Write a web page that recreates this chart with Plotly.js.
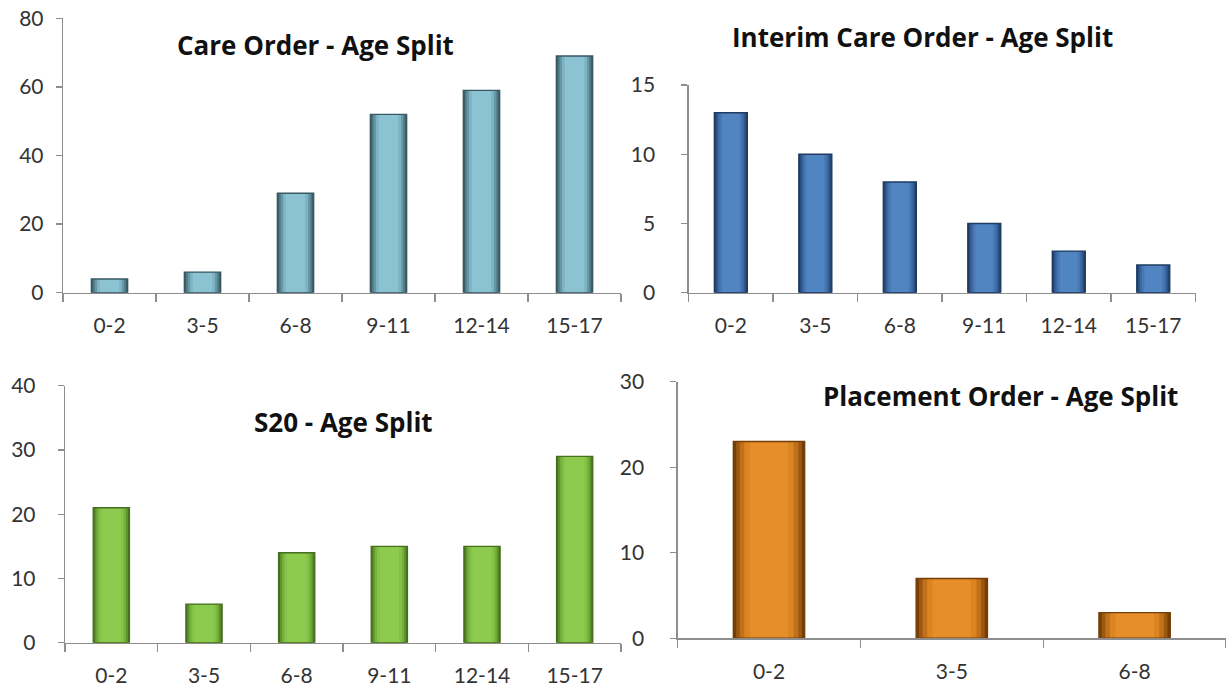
<!DOCTYPE html>
<html>
<head>
<meta charset="utf-8">
<script src="https://cdn.plot.ly/plotly-3.0.1.min.js"></script>
<style>html,body{margin:0;padding:0;background:#fff;}#chart{width:1226px;height:690px;}</style>
</head>
<body>
<div id="chart"></div>
<script>
// ---- data ----
var ages6 = ['0-2', '3-5', '6-8', '9-11', '12-14', '15-17'];
var ages3 = ['0-2', '3-5', '6-8'];
var careOrder = [4, 6, 29, 52, 59, 69];
var interimCareOrder = [13, 10, 8, 5, 3, 2];
var s20 = [21, 6, 14, 15, 15, 29];
var placementOrder = [23, 7, 3];
var titles = ['Care Order - Age Split', 'Interim Care Order - Age Split', 'S20 - Age Split', 'Placement Order - Age Split'];

// ---- style ----
var FONT = 'Lato, "Open Sans", "DejaVu Sans", sans-serif';
var TFONT = '"Open Sans", Lato, "DejaVu Sans", sans-serif';
var palettes = [
  ['#395a64', '#4f7784', '#6796a5', '#7eb3c3', '#8cc3d3'],
  ['#1f3b62', '#2c5184', '#3b67a0', '#4878b4', '#5085c2'],
  ['#466f1f', '#5e922d', '#74ae3b', '#84c146', '#8dcb4e'],
  ['#743f07', '#9c5710', '#c2701a', '#db8423', '#e68f2a']
];
var layerW = [0.39, 0.36, 0.32, 0.27, 0.21];

var panels = [
  {x: ages6, y: careOrder, xa: 'x', ya: 'y'},
  {x: ages6, y: interimCareOrder, xa: 'x2', ya: 'y2'},
  {x: ages6, y: s20, xa: 'x3', ya: 'y3'},
  {x: ages3, y: placementOrder, xa: 'x4', ya: 'y4'}
];

var traces = [];
panels.forEach(function (p, i) {
  var pal = palettes[i];
  layerW.forEach(function (w, k) {
    traces.push({
      type: 'bar', x: p.x, y: p.y, xaxis: p.xa, yaxis: p.ya,
      width: w, marker: {color: pal[k], line: {width: 0}},
      hoverinfo: k === 0 ? 'x+y' : 'skip', showlegend: false
    });
  });
  traces.push({
    type: 'bar', x: p.x, y: p.y, xaxis: p.xa, yaxis: p.ya,
    width: layerW[0], marker: {color: 'rgba(0,0,0,0)', line: {width: 1.4, color: pal[0]}},
    hoverinfo: 'skip', showlegend: false
  });
});

var W = 1226, H = 690;
function px(a) { return a / W; }
function py(b) { return 1 - b / H; }

function xAxis(domain, anchor, n) {
  return {
    domain: domain, anchor: anchor, type: 'category', range: [-0.5, n - 0.5],
    showgrid: false, zeroline: false, showline: true, linecolor: '#8e8e8e', linewidth: 1.3,
    ticks: 'outside', tickson: 'boundaries', ticklen: 8, tickcolor: '#8e8e8e', tickwidth: 1.3,
    ticklabelstandoff: 14,
    tickfont: {family: FONT, size: 21, color: '#333333'}, fixedrange: true
  };
}
function yAxis(domain, anchor, max, dtick, standoff) {
  return {
    domain: domain, anchor: anchor, range: [0, max], dtick: dtick, tick0: 0,
    showgrid: false, zeroline: false, showline: true, linecolor: '#8e8e8e', linewidth: 1.3,
    ticks: 'outside', ticklen: 6, tickcolor: '#8e8e8e', tickwidth: 1.3,
    ticklabelstandoff: standoff,
    tickfont: {family: FONT, size: 21, color: '#333333'}, fixedrange: true
  };
}

var layout = {
  width: W, height: H, margin: {l: 0, r: 0, t: 0, b: 0},
  paper_bgcolor: '#ffffff', plot_bgcolor: 'rgba(0,0,0,0)',
  barmode: 'overlay', showlegend: false,
  xaxis: xAxis([px(63), px(621)], 'y', ages6.length),
  yaxis: yAxis([py(292.7), py(18.3)], 'x', 80, 20, 8),
  xaxis2: xAxis([px(688.6), px(1195.5)], 'y2', ages6.length),
  yaxis2: yAxis([py(292.7), py(85)], 'x2', 15, 5, 22),
  xaxis3: xAxis([px(65), px(621)], 'y3', ages6.length),
  yaxis3: yAxis([py(642.7), py(385.7)], 'x3', 40, 10, 18),
  xaxis4: xAxis([px(677.6), px(1226)], 'y4', ages3.length),
  yaxis4: yAxis([py(638.3), py(381.7)], 'x4', 30, 10, 22),
  annotations: [
    {text: titles[0], x: px(315), y: py(45)},
    {text: titles[1], x: px(922), y: py(37)},
    {text: titles[2], x: px(343), y: py(422)},
    {text: titles[3], x: px(1000), y: py(396)}
  ].map(function (a) {
    return {
      text: '<b>' + a.text + '</b>', x: a.x, y: a.y, xref: 'paper', yref: 'paper',
      xanchor: 'center', yanchor: 'middle', showarrow: false,
      font: {family: TFONT, size: 26, color: '#111111'}
    };
  })
};

Plotly.newPlot('chart', traces, layout, {staticPlot: true, displayModeBar: false});
</script>
</body>
</html>
